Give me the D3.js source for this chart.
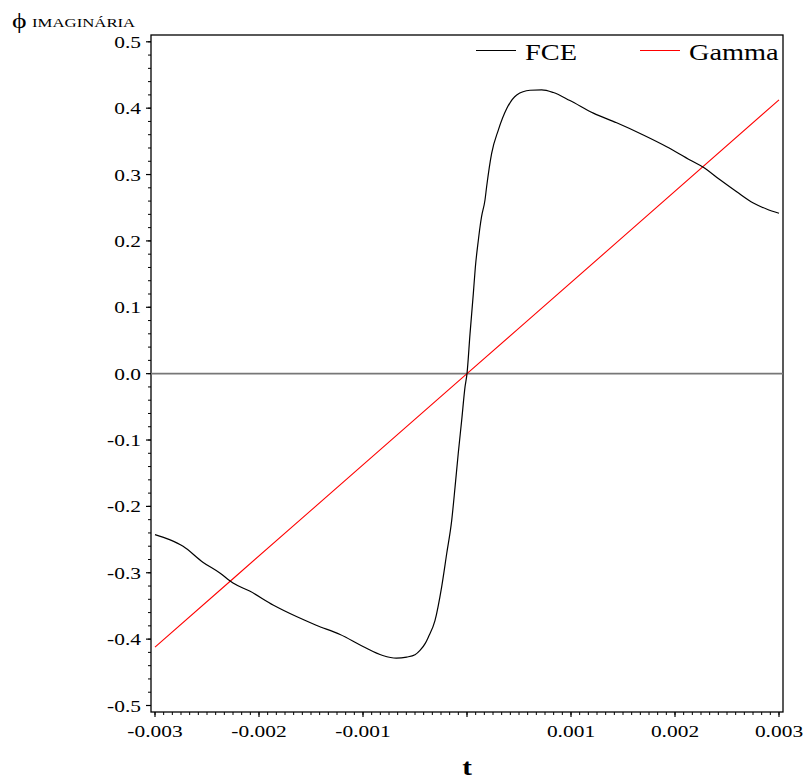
<!DOCTYPE html>
<html><head><meta charset="utf-8">
<script src="https://cdn.jsdelivr.net/npm/d3@7"></script>
<style>
html,body{margin:0;padding:0;background:#fff;}
svg{display:block;}
text{font-family:"Liberation Serif","Times New Roman",serif;fill:#000;}
</style></head>
<body>
<svg id="chart" width="807" height="781"></svg>
<script>
// ---- data ----
const fceT = [-0.00300,-0.00286,-0.00273,-0.00254,-0.00238,-0.00225,-0.00209,-0.00186,-0.00164,-0.00145,
  -0.00122,-0.00100,-0.00081,-0.00068,-0.00058,-0.00050,-0.000452,-0.00040,-0.000372,-0.000308,
  -0.000244,-0.000195,-0.000147,-0.000115,-0.000084,-0.000051,-0.000019,0,0.000029,0.000061,
  0.000080,0.000109,0.000125,0.000140,0.000173,0.000189,0.000237,0.000301,0.000381,0.000478,
  0.000606,0.000718,0.00083,0.00099,0.001215,0.001439,0.001695,0.00192,0.002144,0.002272,
  0.002433,0.002593,0.002753,0.00288,0.00300];
const fceV = [-0.2425,-0.250,-0.260,-0.284,-0.300,-0.3155,-0.3276,-0.349,-0.366,-0.379,
  -0.393,-0.411,-0.4246,-0.4286,-0.427,-0.4235,-0.417,-0.406,-0.397,-0.372,
  -0.3215,-0.271,-0.221,-0.171,-0.120,-0.070,-0.020,0,0.060,0.121,
  0.160,0.201,0.221,0.2365,0.2617,0.282,0.332,0.367,0.399,0.420,
  0.427,0.4276,0.4236,0.4115,0.3925,0.378,0.3597,0.342,0.322,0.311,
  0.292,0.274,0.257,0.248,0.2416];
const gammaT = [-0.003,-0.0015,0,0.0015,0.003];
const gammaV = [-0.412,-0.206,0,0.206,0.4125];
const xTicks = [-0.003,-0.002,-0.001,0,0.001,0.002,0.003];
const xTickLabels = ["-0.003","-0.002","-0.001","0.000","0.001","0.002","0.003"];
const yTicks = [-0.5,-0.4,-0.3,-0.2,-0.1,0,0.1,0.2,0.3,0.4,0.5];
const yTickLabels = ["-0.5","-0.4","-0.3","-0.2","-0.1","0.0","0.1","0.2","0.3","0.4","0.5"];
const seriesNames = ["FCE","Gamma"];
const seriesColors = ["#000000","#ff0000"];

// ---- layout ----
const svg = d3.select("#chart");
const SX = 1.26; // horizontal stretch of the text
const box = {left:151, right:783, top:35, bottom:712};
const x = d3.scaleLinear().domain([-0.003,0.003]).range([155,779]);
const y = d3.scaleLinear().domain([-0.5,0.5]).range([705.5,41.8]);

function stext(g, px, py, str, size, anchor, weight){
  return g.append("text")
    .attr("transform",`translate(${px},${py}) scale(${SX},1)`)
    .attr("text-anchor",anchor||"start")
    .style("font-size",size+"px")
    .style("font-weight",weight||"normal")
    .text(str);
}

// frame
svg.append("rect").attr("x",box.left).attr("y",box.top)
  .attr("width",box.right-box.left).attr("height",box.bottom-box.top)
  .attr("fill","none").attr("stroke","#000").attr("stroke-width",1.3);

// y axis ticks
const yMinor = d3.range(-0.5,0.5001,0.02);
const gy = svg.append("g");
gy.selectAll("line.minor").data(yMinor).join("line")
  .attr("x1",box.left-3).attr("x2",box.left)
  .attr("y1",d=>y(d)).attr("y2",d=>y(d)).attr("stroke","#000").attr("stroke-width",1);
gy.selectAll("line.major").data(yTicks).join("line")
  .attr("x1",box.left-5).attr("x2",box.left)
  .attr("y1",d=>y(d)).attr("y2",d=>y(d)).attr("stroke","#000").attr("stroke-width",1.2);
yTicks.forEach((v,i)=>{
  stext(gy, 141, y(v)+6, yTickLabels[i], 17, "end");
});

// x axis ticks
const xMinor = d3.range(0,73).map(i=>-0.003+i*0.001/12);
const gx = svg.append("g");
gx.selectAll("line.minor").data(xMinor).join("line")
  .attr("x1",d=>x(d)).attr("x2",d=>x(d))
  .attr("y1",box.bottom).attr("y2",box.bottom+3).attr("stroke","#000").attr("stroke-width",1);
gx.selectAll("line.major").data(xTicks).join("line")
  .attr("x1",d=>x(d)).attr("x2",d=>x(d))
  .attr("y1",box.bottom).attr("y2",box.bottom+5).attr("stroke","#000").attr("stroke-width",1.2);
xTicks.forEach((v,i)=>{
  if (v===0) return;
  stext(gx, x(v), 737, xTickLabels[i], 17, "middle");
});

// zero line
svg.append("line").attr("x1",box.left).attr("x2",box.right)
  .attr("y1",y(0)).attr("y2",y(0)).attr("stroke","#777").attr("stroke-width",1.6);

// series
const line = d3.line().x(d=>x(d[0])).y(d=>y(d[1])).curve(d3.curveMonotoneX);
svg.append("path").datum(gammaT.map((t,i)=>[t,gammaV[i]]))
  .attr("d",line).attr("fill","none").attr("stroke",seriesColors[1]).attr("stroke-width",1.1);
svg.append("path").datum(fceT.map((t,i)=>[t,fceV[i]]))
  .attr("d",line).attr("fill","none").attr("stroke",seriesColors[0]).attr("stroke-width",1.2);

// legend
const legX = [476,640];
seriesNames.forEach((n,i)=>{
  svg.append("line").attr("x1",legX[i]).attr("x2",legX[i]+40)
    .attr("y1",50.5).attr("y2",50.5).attr("stroke",seriesColors[i]).attr("stroke-width",1.2);
  stext(svg, legX[i]+49, 60, n, 22.5, "start");
});

// axis titles
stext(svg, 467, 775, "t", 23, "middle", "bold");
stext(svg, 12, 28, "ϕ", 22, "start");
stext(svg, 32, 27, "IMAGINÁRIA", 13.3, "start");
</script>
</body></html>
